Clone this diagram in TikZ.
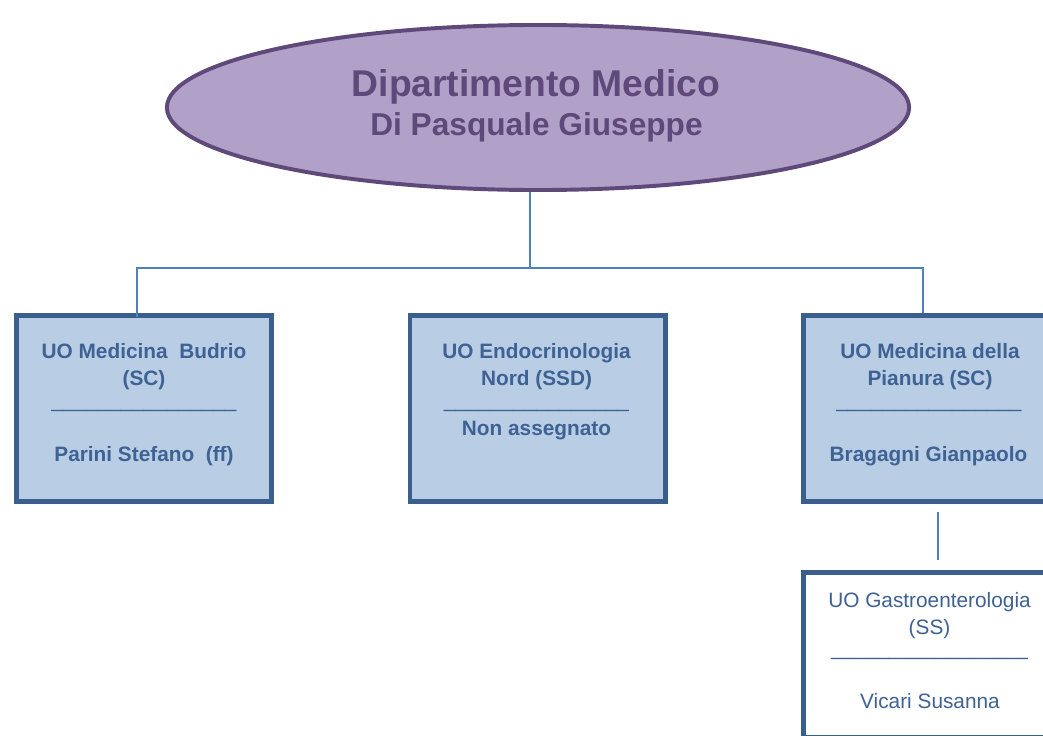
\documentclass[tikz,border=0pt]{standalone}
\usepackage{fontspec}
\setmainfont{Liberation Sans}
\usetikzlibrary{shapes.geometric}

\definecolor{deptfill}{HTML}{B1A0C7}
\definecolor{deptline}{HTML}{5F497A}
\definecolor{uofill}{HTML}{B9CDE5}
\definecolor{uoline}{HTML}{3A5F8C}
\definecolor{uotext}{HTML}{3E6294}
\definecolor{linkline}{HTML}{4F81BD}

\begin{document}
\begin{tikzpicture}[x=0.025cm, y=-0.025cm,
  dept/.style={ellipse, draw=deptline, fill=deptfill, line width=2.8pt,
    minimum width=18.55cm, minimum height=4.125cm, inner sep=0pt},
  depttext/.style={anchor=base, text=deptline},
  uobox/.style={rectangle, draw=uoline, fill=uofill, line width=3.5pt,
    minimum width=6.375cm, minimum height=4.65cm, inner sep=0pt},
  uotitle/.style={anchor=base, align=center, text=uotext, inner sep=0pt,
    font=\fontsize{14.8}{19.1}\selectfont\bfseries},
  uoplain/.style={uotitle, font=\fontsize{14.8}{19.1}\selectfont},
  link/.style={draw=linkline, line width=1.4pt}]

\clip (0,0) rectangle (1043,735);

% department
\node[dept] (dept) at (538,107.5) {};
\node[depttext, font=\fontsize{26.5}{30}\selectfont\bfseries] (deptName) at (536,97) {Dipartimento Medico};
\node[depttext, font=\fontsize{22.5}{27}\selectfont\bfseries] (deptHead) at (536.5,136) {Di Pasquale Giuseppe};

% units (the right column runs past the page edge)
\node[uobox] (budrio) at (144,408.5) {};
\node[uobox] (endo) at (537.5,408.5) {};
\node[uobox, minimum width=7cm] (pianura) at (943.5,408.5) {};
\node[uobox, fill=white, minimum width=7cm, minimum height=4.11cm] (gastro) at (943.5,654.75) {};

\node[uotitle] (budrioT) at (144,385) {UO Medicina\ \ Budrio\\(SC)};
\node[uoplain] (budrioR) at (144,407) {\_\_\_\_\_\_\_\_\_\_\_\_\_\_\_\_};
\node[uotitle] (budrioN) at (144,461) {Parini Stefano\ \ (ff)};

\node[uotitle] (endoT) at (536.5,385) {UO Endocrinologia\\Nord (SSD)};
\node[uoplain] (endoR) at (536.5,407) {\_\_\_\_\_\_\_\_\_\_\_\_\_\_\_\_};
\node[uotitle] (endoN) at (536.5,435) {Non assegnato};

\node[uotitle] (pianuraT) at (930,385) {UO Medicina della\\Pianura (SC)};
\node[uoplain] (pianuraR) at (929,407) {\_\_\_\_\_\_\_\_\_\_\_\_\_\_\_\_};
\node[uotitle] (pianuraN) at (928.5,461) {Bragagni Gianpaolo};

\node[uoplain] (gastroT) at (929.5,634) {UO Gastroenterologia\\(SS)};
\node[uoplain] (gastroR) at (929.5,655) {\_\_\_\_\_\_\_\_\_\_\_\_\_\_\_\_\_};
\node[uoplain] (gastroN) at (930,708) {Vicari Susanna};

% connectors
\coordinate (hub) at (530,268);
\coordinate (jL) at (137,268);
\coordinate (jR) at (923,268);
\coordinate (drop) at (938,540);
\draw[link] (dept.south -| hub) -- (hub);
\draw[link, shorten >=-3pt] (jR |- pianura.north) -- (jR) -- (jL) -- (jL |- budrio.north);
\draw[link, shorten <=6pt, shorten >=7.4pt] (drop |- pianura.south) -- (drop |- gastro.north);
\end{tikzpicture}
\end{document}
